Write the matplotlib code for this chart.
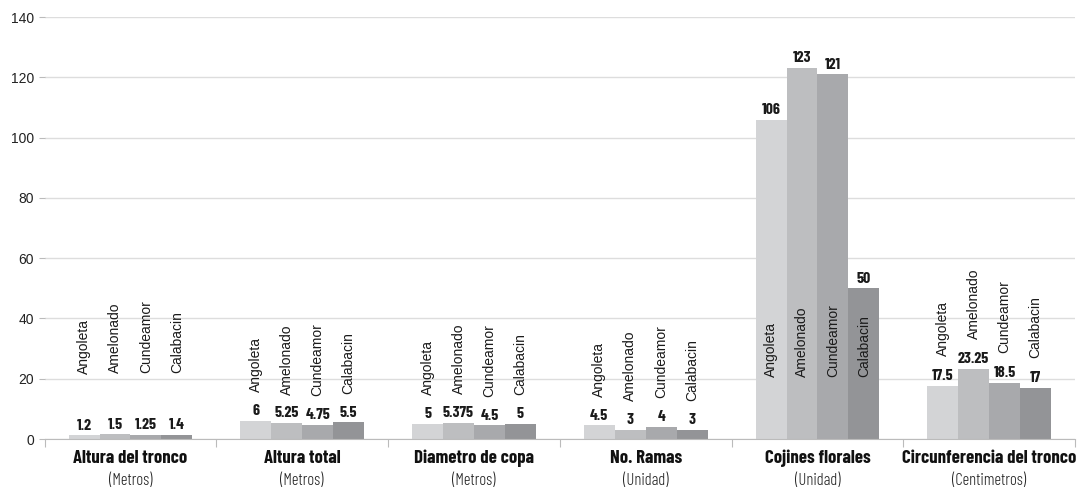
import matplotlib.pyplot as plt
import numpy as np

categories = ['Altura del tronco', 'Altura total', 'Diametro de copa',
              'No. Ramas', 'Cojines florales', 'Circunferencia del tronco']
units = ['(Metros)', '(Metros)', '(Metros)', '(Unidad)', '(Unidad)', '(Centimetros)']
varieties = ['Angoleta', 'Amelonado', 'Cundeamor', 'Calabacin']
angoleta = [1.2, 6, 5, 4.5, 106, 17.5]
amelonado = [1.5, 5.25, 5.375, 3, 123, 23.25]
cundeamor = [1.25, 4.75, 4.5, 4, 121, 18.5]
calabacin = [1.4, 5.5, 5, 3, 50, 17]
value_text = [['1.2', '6', '5', '4.5', '106', '17.5'],
              ['1.5', '5.25', '5.375', '3', '123', '23.25'],
              ['1.25', '4.75', '4.5', '4', '121', '18.5'],
              ['1.4', '5.5', '5', '3', '50', '17']]

series = [angoleta, amelonado, cundeamor, calabacin]
colors = ['#d3d4d6', '#bdbec0', '#a8a9ac', '#939497']
name_offset = [20.5, 9.5, 9.5, 9.5, None, 10]

cond = ['Barlow Condensed', 'DejaVu Sans']
plain = ['Liberation Sans', 'DejaVu Sans']

fig = plt.figure(figsize=(10.87, 4.92), dpi=100)
ax = fig.add_axes([0.041, 0.1077, 0.948, 0.8577])

x = np.arange(len(categories))
w = 0.18
for i, vals in enumerate(series):
    pos = x + (i - 1.5) * w
    ax.bar(pos, vals, width=w, color=colors[i], zorder=2)
    for j, v in enumerate(vals):
        ax.annotate(value_text[i][j], (pos[j], v), xytext=(0, 2),
                    textcoords='offset points', ha='center', va='bottom',
                    fontsize=11.5, fontweight='bold', family=cond, color='#1a1a1a')
        if name_offset[j] is None:
            ny = 20.5
        else:
            ny = v + name_offset[j]
        ax.text(pos[j], ny, varieties[i], rotation=90, ha='center',
                va='bottom', fontsize=10, family=plain, color='#1a1a1a')

ax.set_xlim(-0.5, len(categories) - 0.5)
ax.set_ylim(0, 140)
ax.set_yticks(range(0, 141, 20))
ax.tick_params(axis='y', length=4, color='#bbbbbb', labelsize=10)
for lab in ax.get_yticklabels():
    lab.set_family(plain)
    lab.set_color('#222222')
ax.grid(axis='y', color='#dddddd', linewidth=1, zorder=0)
ax.set_axisbelow(True)
for s in ['top', 'right', 'left']:
    ax.spines[s].set_visible(False)
ax.spines['bottom'].set_color('#bbbbbb')

ax.set_xticks(np.arange(-0.5, len(categories), 1.0))
ax.set_xticklabels([])
ax.tick_params(axis='x', length=6, color='#bbbbbb')

for j, (c, u) in enumerate(zip(categories, units)):
    ax.annotate(c, (x[j], 0), xycoords='data', xytext=(0, -13.7),
                textcoords='offset points', ha='center', va='center',
                fontsize=13.5, fontweight='bold', family=cond, color='#111111')
    ax.annotate(u, (x[j], 0), xycoords='data', xytext=(0, -30),
                textcoords='offset points', ha='center', va='center',
                fontsize=12, fontweight=300, family=cond, color='#222222')

fig.savefig('out.png', dpi=100)
